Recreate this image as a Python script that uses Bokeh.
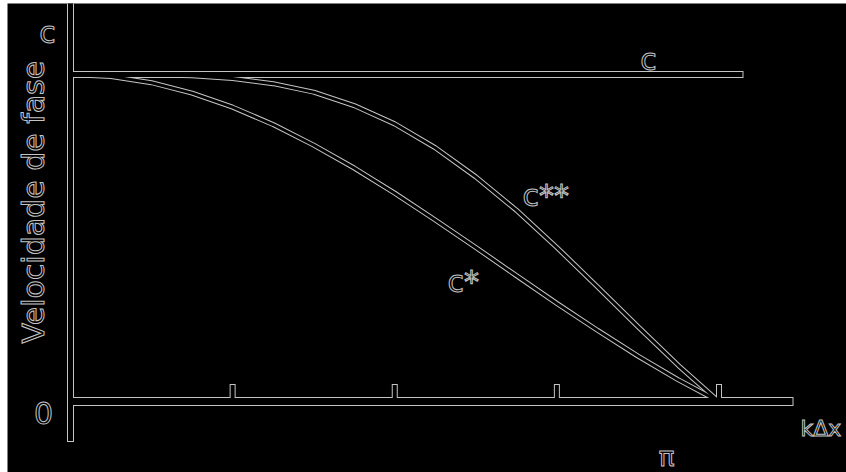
import numpy as np
from bokeh.plotting import figure
from bokeh.models import Range1d, Label
from bokeh.embed import file_html
from bokeh.resources import INLINE

# ---------------- data ----------------
# wavenumber k*dx, expressed as a fraction of pi
kdx_over_pi = [0.0, 0.0625, 0.125, 0.1875, 0.25, 0.3125, 0.375, 0.4375, 0.5,
               0.5625, 0.625, 0.6875, 0.75, 0.8125, 0.875, 0.9375, 1.0]
# phase velocity (units of c) of the lower curve c*
c_star = [1.0, 0.994, 0.975, 0.943, 0.900, 0.847, 0.784, 0.714, 0.637,
          0.555, 0.471, 0.385, 0.300, 0.218, 0.139, 0.066, 0.0]
# phase velocity (units of c) of the upper curve c**
c_star2 = [1.0, 1.0, 0.999, 0.996, 0.988, 0.972, 0.946, 0.905, 0.849,
           0.776, 0.687, 0.585, 0.471, 0.351, 0.229, 0.110, 0.0]
tick_over_pi = [0.25, 0.5, 0.75, 1.0]
c_level = 1.0
zero_level = 0.0
y_labels = ["c", "0"]
x_end_label = "π"
x_title = "kΔx"
y_title = "Velocidade de fase"

# ---------------- layout helpers (page pixels -> data) ----------------
W, H = 846, 472
LEFT, TOP = 7, 3        # thin white page strip seen in the reference
XS = 648.5 / np.pi      # px per unit of k*dx
YS = 327.0              # px per unit of c
X0, Y0 = 70.0, 401.0    # page pixel of the origin


def dx(px):
    return (px - X0) / XS


def dy(py):
    return (Y0 - py) / YS


p = figure(width=W, height=H, output_backend="svg", toolbar_location=None,
           x_range=Range1d(dx(LEFT), dx(W)), y_range=Range1d(dy(H), dy(TOP)),
           x_axis_location=None, y_axis_location=None,
           background_fill_color="black", border_fill_color="white",
           outline_line_color=None, min_border=0,
           min_border_left=LEFT, min_border_top=TOP)
p.grid.visible = False

EDGE = "#c4c4c4"
BG = "black"

k = np.array(kdx_over_pi) * np.pi
ticks = np.array(tick_over_pi) * np.pi
tick_top = dy(383.5)

# outer (edge) strokes
p.line([0, 0], [dy(0), dy(441.5)], line_width=7, color=EDGE)
p.line([0, dx(793)], [zero_level, zero_level], line_width=9, color=EDGE)
p.line([0, dx(743)], [c_level, c_level], line_width=7, color=EDGE)
p.segment(x0=ticks, y0=[zero_level] * 4, x1=ticks, y1=[tick_top] * 4,
          line_width=6, color=EDGE)
p.line(k, c_star, line_width=5, color=EDGE)
p.line(k, c_star2, line_width=5, color=EDGE)

# inner (background) strokes -> outline look
p.line([0, 0], [dy(-5), dy(440.5)], line_width=5, color=BG)
p.line([0, dx(792)], [zero_level, zero_level], line_width=7, color=BG)
p.line([0, dx(742)], [c_level, c_level], line_width=5, color=BG)
p.segment(x0=ticks, y0=[zero_level] * 4, x1=ticks, y1=[dy(384.5)] * 4,
          line_width=4, color=BG)
p.line(k, c_star, line_width=3, color=BG)
p.line(k, c_star2, line_width=3, color=BG)

FONT = "DejaVu Sans"


def lab(txt, px, py, size, align="left", angle=0.0, baseline="alphabetic"):
    p.add_layout(Label(x=dx(px), y=dy(py), text=txt, angle=angle,
                       text_align=align, text_baseline=baseline,
                       text_font=FONT, text_font_size=size,
                       text_color=BG, text_outline_color=EDGE))


lab(y_labels[0], 47, 32, "30px", align="center")
lab(y_labels[1], 43, 412, "30px", align="center")
lab("c", 648, 59, "30px", align="center")
lab("c**", 522, 195, "30px")
lab("c*", 447, 281, "30px")
lab(x_title, 800, 428, "22px")
lab(x_end_label, 666, 471, "26px", align="center", baseline="bottom")
lab(y_title, 33, 343, "30px", angle=np.pi / 2)

open("out.html", "w").write(file_html(p, INLINE))
